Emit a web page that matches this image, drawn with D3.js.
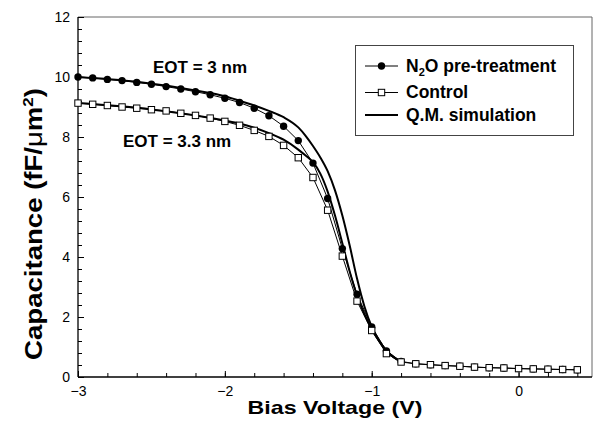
<!DOCTYPE html>
<html>
<head>
<meta charset="utf-8">
<script src="https://cdn.jsdelivr.net/npm/d3@7"></script>
<style>
  html, body { margin: 0; padding: 0; background: #fff; }
  svg { display: block; font-family: "Liberation Sans", Arial, Helvetica, sans-serif; }
</style>
</head>
<body>
<svg id="chart" width="594" height="440"></svg>
<script>
// Measured C-V data: gate bias (V) and capacitance (fF/um^2)
const biasVoltage = [-3.0, -2.9, -2.8, -2.7, -2.6, -2.5, -2.4, -2.3, -2.2, -2.1,
                     -2.0, -1.9, -1.8, -1.7, -1.6, -1.5, -1.4, -1.3, -1.2, -1.1,
                     -1.0, -0.9, -0.8, -0.7, -0.6, -0.5, -0.4, -0.3, -0.2, -0.1,
                      0.0,  0.1,  0.2,  0.3,  0.4];

const n2oCap = [10.00, 9.97, 9.92, 9.88, 9.82, 9.76, 9.68, 9.60, 9.51, 9.41,
                 9.29, 9.15, 8.96, 8.71, 8.36, 7.88, 7.13, 5.95, 4.28, 2.76,
                 1.67, 0.87, 0.52, 0.44, 0.41, 0.38, 0.36, 0.33, 0.31, 0.30,
                 0.28, 0.27, 0.26, 0.25, 0.24];

const controlCap = [9.13, 9.09, 9.05, 9.00, 8.96, 8.91, 8.87, 8.79, 8.72, 8.63,
                    8.52, 8.39, 8.22, 8.02, 7.72, 7.31, 6.65, 5.56, 4.03, 2.53,
                    1.55, 0.78, 0.50, 0.44, 0.41, 0.38, 0.36, 0.33, 0.31, 0.30,
                    0.28, 0.27, 0.26, 0.25, 0.24];

// Quantum-mechanical simulation curves
const simN2oV = [-3.0, -2.6, -2.2, -2.0, -1.9, -1.8, -1.7, -1.6, -1.5, -1.45, -1.4,
                 -1.35, -1.3, -1.25, -1.2, -1.15, -1.1, -1.05, -1.0, -0.95, -0.9, -0.85, -0.8];
const simN2oC = [10.00, 9.84, 9.55, 9.36, 9.21, 9.05, 8.87, 8.66, 8.32, 8.04, 7.70,
                 7.32, 6.86, 6.22, 5.38, 4.38, 3.28, 2.36, 1.68, 1.22, 0.88, 0.66, 0.52];

const simCtrlV = [-3.0, -2.5, -2.0, -1.9, -1.8, -1.7, -1.6, -1.5, -1.45, -1.4, -1.35,
                  -1.3, -1.25, -1.2, -1.15, -1.1, -1.05, -1.0, -0.95, -0.9, -0.85, -0.8];
const simCtrlC = [9.13, 8.92, 8.55, 8.45, 8.31, 8.13, 7.91, 7.58, 7.38, 7.16, 6.78,
                  6.18, 5.38, 4.46, 3.52, 2.72, 2.10, 1.60, 1.20, 0.88, 0.66, 0.50];

const xTicks = [-3, -2, -1, 0];
const yTicks = [0, 2, 4, 6, 8, 10, 12];

const legendLabels = ["pre-treatment", "Control", "Q.M. simulation"];

const margin = { left: 78, right: 2, top: 17, bottom: 63 };
const W = 594, H = 440;
const svg = d3.select("#chart");

const x = d3.scaleLinear().domain([-3, 0.5]).range([margin.left, W - margin.right]);
const y = d3.scaleLinear().domain([0, 12]).range([H - margin.bottom, margin.top]);

const x0 = x.range()[0], x1 = x.range()[1];
const y0 = y.range()[0], y1 = y.range()[1];

// frame on top and right
svg.append("line").attr("x1", x0).attr("x2", x1).attr("y1", y1).attr("y2", y1)
  .attr("stroke", "#666").attr("stroke-width", 1);
svg.append("line").attr("x1", x1).attr("x2", x1).attr("y1", y1).attr("y2", y0)
  .attr("stroke", "#666").attr("stroke-width", 1);

const labelStyle = g => g.selectAll("text").attr("font-size", 14).attr("fill", "#000")
  .attr("font-family", "Liberation Sans, Arial, sans-serif");
const noDomain = g => g.select(".domain").remove();

// x axis: major every 1 V, minor every 0.2 V, ticks pointing inward
const xMinor = d3.range(-3, 0.5001, 0.2).map(v => +v.toFixed(2));
svg.append("g").attr("transform", `translate(0,${y0})`)
  .call(d3.axisTop(x).tickValues(xMinor).tickSize(4).tickFormat("")).call(noDomain);
svg.append("g").attr("transform", `translate(0,${y0})`)
  .call(d3.axisTop(x).tickValues(xTicks).tickSize(6).tickFormat("")).call(noDomain);
svg.append("g").attr("transform", `translate(0,${y0})`)
  .call(d3.axisBottom(x).tickValues(xTicks).tickSize(0).tickPadding(9)
    .tickFormat(d3.format("d")))
  .call(noDomain).call(labelStyle);
svg.append("line").attr("x1", x0).attr("x2", x1).attr("y1", y0).attr("y2", y0)
  .attr("stroke", "#000").attr("stroke-width", 1.3);

// y axis: major every 2, minor every 0.4, ticks pointing inward
const yMinor = d3.range(0, 12.001, 0.4).map(v => +v.toFixed(2));
svg.append("g").attr("transform", `translate(${x0},0)`)
  .call(d3.axisRight(y).tickValues(yMinor).tickSize(4).tickFormat("")).call(noDomain);
svg.append("g").attr("transform", `translate(${x0},0)`)
  .call(d3.axisRight(y).tickValues(yTicks).tickSize(6).tickFormat("")).call(noDomain);
svg.append("g").attr("transform", `translate(${x0},0)`)
  .call(d3.axisLeft(y).tickValues(yTicks).tickSize(0).tickPadding(8)
    .tickFormat(d3.format("d")))
  .call(noDomain).call(labelStyle);
svg.append("line").attr("x1", x0).attr("x2", x0).attr("y1", y0).attr("y2", y1)
  .attr("stroke", "#000").attr("stroke-width", 1.3);

// axis titles, stretched to their set lengths
function fitWidth(textSel, target) {
  const w = textSel.node().getBBox().width;
  return target / w;
}

const xTitleG = svg.append("g");
const xTitle = xTitleG.append("text")
  .attr("text-anchor", "middle").attr("font-weight", "bold").attr("font-size", 18.5)
  .text("Bias Voltage (V)");
xTitleG.attr("transform", `translate(${(x0 + x1) / 2},414) scale(${fitWidth(xTitle, 175)},1)`);

const yTitleG = svg.append("g");
const yTitle = yTitleG.append("text")
  .attr("text-anchor", "middle").attr("font-weight", "bold").attr("font-size", 23);
yTitle.append("tspan").text("Capacitance (fF/");
yTitle.append("tspan").attr("font-weight", "normal").text("\u03bc");
yTitle.append("tspan").text("m");
yTitle.append("tspan").attr("font-size", 14).attr("dy", -9).text("2");
yTitle.append("tspan").attr("dy", 9).text(")");
yTitleG.attr("transform", `translate(41.5,224) rotate(-90) scale(${fitWidth(yTitle, 272)},1)`);

// simulation curves (thick)
const simLine = d3.line().x(d => x(d[0])).y(d => y(d[1])).curve(d3.curveMonotoneX);
[[simN2oV, simN2oC], [simCtrlV, simCtrlC]].forEach(([vs, cs]) => {
  svg.append("path")
    .datum(vs.map((v, i) => [v, cs[i]]))
    .attr("d", simLine)
    .attr("fill", "none").attr("stroke", "#000").attr("stroke-width", 2);
});

// measured data (thin lines + markers)
const dataLine = d3.line().x(d => x(d[0])).y(d => y(d[1]));
const n2oPts = biasVoltage.map((v, i) => [v, n2oCap[i]]);
const ctrlPts = biasVoltage.map((v, i) => [v, controlCap[i]]);

svg.append("path").datum(n2oPts).attr("d", dataLine)
  .attr("fill", "none").attr("stroke", "#000").attr("stroke-width", 1);
svg.append("path").datum(ctrlPts).attr("d", dataLine)
  .attr("fill", "none").attr("stroke", "#000").attr("stroke-width", 1);

svg.append("g").selectAll("circle").data(n2oPts).join("circle")
  .attr("cx", d => x(d[0])).attr("cy", d => y(d[1])).attr("r", 3.7)
  .attr("fill", "#000");

const sq = 6.4;
svg.append("g").selectAll("rect").data(ctrlPts).join("rect")
  .attr("x", d => x(d[0]) - sq / 2).attr("y", d => y(d[1]) - sq / 2)
  .attr("width", sq).attr("height", sq)
  .attr("fill", "#fff").attr("stroke", "#000").attr("stroke-width", 1);

// annotations
svg.append("text").attr("x", 153).attr("y", 72.5)
  .attr("font-weight", "bold").attr("font-size", 17).text("EOT = 3 nm");
svg.append("text").attr("x", 123).attr("y", 146.5)
  .attr("font-weight", "bold").attr("font-size", 17).text("EOT = 3.3 nm");

// legend
const leg = svg.append("g");
leg.append("rect").attr("x", 355.5).attr("y", 45.5).attr("width", 218).attr("height", 90)
  .attr("fill", "#fff").attr("stroke", "#444").attr("stroke-width", 1);
const rows = [66, 92.5, 115];
const lx0 = 365, lx1 = 398, lxm = 381.5, tx = 406;
leg.append("line").attr("x1", lx0).attr("x2", lx1).attr("y1", rows[0]).attr("y2", rows[0])
  .attr("stroke", "#000").attr("stroke-width", 1);
leg.append("circle").attr("cx", lxm).attr("cy", rows[0]).attr("r", 3.7).attr("fill", "#000");
leg.append("line").attr("x1", lx0).attr("x2", lx1).attr("y1", rows[1]).attr("y2", rows[1])
  .attr("stroke", "#000").attr("stroke-width", 1);
leg.append("rect").attr("x", lxm - sq / 2).attr("y", rows[1] - sq / 2)
  .attr("width", sq).attr("height", sq).attr("fill", "#fff").attr("stroke", "#000");
leg.append("line").attr("x1", lx0).attr("x2", lx1).attr("y1", rows[2]).attr("y2", rows[2])
  .attr("stroke", "#000").attr("stroke-width", 2);

const t1 = leg.append("text").attr("x", tx).attr("y", rows[0] + 5.5)
  .attr("font-weight", "bold").attr("font-size", 17.5);
t1.append("tspan").text("N");
t1.append("tspan").attr("font-size", 11).attr("dy", 4).text("2");
t1.append("tspan").attr("dy", -4).text("O " + legendLabels[0]);
leg.append("text").attr("x", tx).attr("y", rows[1] + 5.5)
  .attr("font-weight", "bold").attr("font-size", 17.5).text(legendLabels[1]);
leg.append("text").attr("x", tx).attr("y", rows[2] + 5.5)
  .attr("font-weight", "bold").attr("font-size", 17.5).text(legendLabels[2]);
</script>
</body>
</html>
